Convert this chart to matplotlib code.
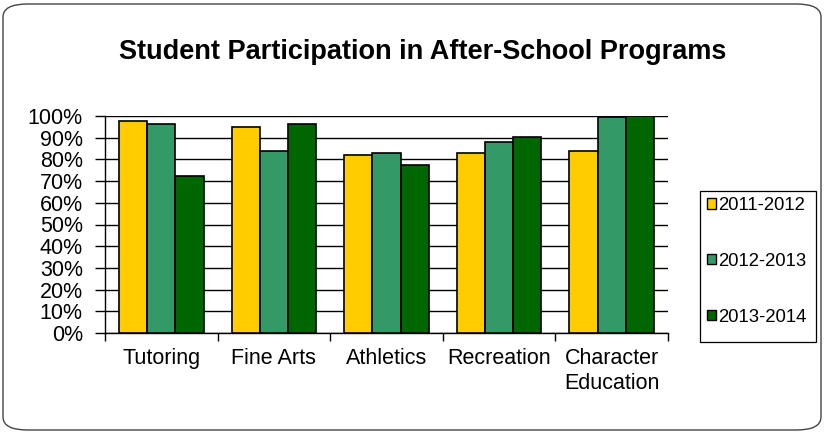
import matplotlib
matplotlib.use("Agg")
import matplotlib.pyplot as plt
from matplotlib.patches import FancyBboxPatch, Patch, Rectangle
import numpy as np

plt.rcParams['font.family'] = ['Liberation Sans', 'DejaVu Sans']

categories = ["Tutoring", "Fine Arts", "Athletics", "Recreation", "Character\nEducation"]
series_names = ["2011-2012", "2012-2013", "2013-2014"]
v2011 = [97.5, 95, 82, 83, 84]
v2012 = [96.5, 84, 83, 88, 99.5]
v2013 = [72.5, 96.5, 77.5, 90.5, 100]
colors = ["#FFCC00", "#339966", "#006600"]
yticks = list(range(0, 101, 10))

fig = plt.figure(figsize=(8.25, 4.34), dpi=100)
W, H = 825, 434

# rounded outer border
border = FancyBboxPatch((3 / W, 4 / H), 818 / W, 426 / H,
                        boxstyle="round,pad=0,rounding_size=0.03",
                        transform=fig.transFigure, facecolor="white",
                        edgecolor="#444444", linewidth=1.0, zorder=-10)
fig.patches.append(border)

ax = fig.add_axes([105 / W, 1 - 333 / H, (668 - 105) / W, (333 - 116) / H])
ax.set_facecolor("none")

x = np.arange(len(categories))
bw = 0.25
for i, (vals, c, name) in enumerate(zip([v2011, v2012, v2013], colors, series_names)):
    ax.bar(x + (i - 1) * bw, vals, width=bw, color=c, edgecolor="black",
           linewidth=1.2, label=name, zorder=3)

ax.set_xlim(-0.5, len(categories) - 0.5)
ax.set_ylim(0, 100)
ax.set_yticks(yticks)
ax.set_yticklabels([f"{t}%" for t in yticks], fontsize=15.5)
ax.yaxis.grid(True, color="black", linewidth=1.0, zorder=0)
ax.set_axisbelow(True)

ax.set_xticks(np.arange(-0.5, len(categories), 1.0))
ax.set_xticklabels([])
ax.set_xticks(x, minor=True)
ax.set_xticklabels(categories, minor=True, fontsize=15.5, linespacing=1.25, va="top")
ax.tick_params(axis="x", which="major", length=6, width=1, color="black", direction="out")
ax.tick_params(axis="x", which="minor", length=0, pad=11)
ax.tick_params(axis="y", length=7, width=1, color="black", direction="out", pad=9)

for s in ["top", "right"]:
    ax.spines[s].set_visible(False)
for s in ["bottom", "left"]:
    ax.spines[s].set_color("black")
    ax.spines[s].set_linewidth(1.0)

fig.text(423 / W, 1 - 52 / H, "Student Participation in After-School Programs",
         ha="center", va="center", fontsize=19.5, fontweight="bold")

# legend frame
frame = Rectangle((700 / W, 1 - 342 / H), 116 / W, 151 / H, transform=fig.transFigure,
                  facecolor="white", edgecolor="black", linewidth=0.9, zorder=5)
fig.patches.append(frame)

handles = [Patch(facecolor=c, edgecolor="black", linewidth=1.0) for c in colors]
leg = fig.legend(handles, series_names, loc="upper left",
                 bbox_to_anchor=(707 / W, 1 - 197 / H), borderaxespad=0,
                 frameon=False, fontsize=13.3,
                 handlelength=0.5, handleheight=0.5, handletextpad=0.12,
                 labelspacing=2.1, borderpad=0)
leg.set_zorder(6)

fig.savefig("out.png", dpi=100)
